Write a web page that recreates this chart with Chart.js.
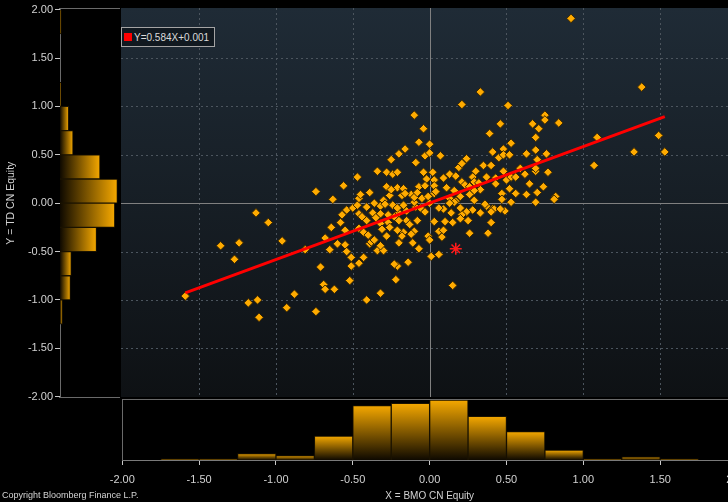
<!DOCTYPE html>
<html><head><meta charset="utf-8">
<script src="https://cdn.jsdelivr.net/npm/chart.js@4/dist/chart.umd.min.js"></script>
<style>
html,body{margin:0;padding:0;background:#000;overflow:hidden;width:728px;height:502px;}
#wrap{position:relative;width:760px;height:502px;}
canvas{position:absolute;left:0;top:0;}
#legend{position:absolute;left:121px;top:27px;width:94px;height:20px;box-sizing:border-box;border:1px solid #a4a4a4;background:#111920;
  font:10px 'Liberation Sans',Arial,sans-serif;color:#dadada;display:flex;align-items:center;white-space:nowrap;}
#legend .sw{display:inline-block;width:8px;height:8px;background:#ff0000;margin:0 2px 0 2px;}
#copy{position:absolute;left:2px;top:490px;font:9px 'Liberation Sans',Arial,sans-serif;line-height:10px;color:#d4d4d4;white-space:nowrap;}
</style></head>
<body><div id="wrap">
<canvas id="cl" width="760" height="502"></canvas>
<canvas id="cm" width="760" height="502"></canvas>
<canvas id="cb" width="760" height="502"></canvas>
<div id="legend"><span class="sw"></span><span id="legtxt"></span></div>
<div id="copy">Copyright Bloomberg Finance L.P.</div>
</div>
<script>
// ---------------- DATA ----------------
const xTickValues = [-2, -1.5, -1, -0.5, 0, 0.5, 1, 1.5, 2];
const xTickLabels = ['-2.00','-1.50','-1.00','-0.50','0.00','0.50','1.00','1.50','2.00'];
const yTickValues = [-2, -1.5, -1, -0.5, 0, 0.5, 1, 1.5, 2];
const yTickLabels = ['-2.00','-1.50','-1.00','-0.50','0.00','0.50','1.00','1.50','2.00'];

// X = BMO CN Equity returns
const bmoX = [
-1.59,-1.36,-1.24,-1.27,-1.13,-1.05,-0.96,-1.18,-1.12,-1.11,
-0.93,-0.88,-0.81,-0.74,-0.74,-0.71,-0.69,-0.68,-0.62,-0.63,
-0.56,-0.68,-0.64,-0.58,-0.55,-0.60,-0.65,-0.55,-0.54,-0.51,
-0.51,-0.52,-0.57,-0.54,-0.50,-0.47,-0.46,-0.46,-0.45,-0.39,
-0.46,-0.43,-0.40,-0.39,-0.38,-0.36,-0.46,-0.43,-0.41,-0.32,
-0.34,-0.30,-0.32,-0.28,-0.20,-0.22,-0.21,-0.14,-0.28,-0.21,
-0.17,-0.26,-0.18,-0.12,-0.17,-0.24,-0.32,-0.30,-0.20,-0.15,
-0.13,-0.10,-0.17,-0.18,-0.11,-0.07,-0.08,-0.09,-0.27,-0.32,
-0.26,-0.32,-0.37,-0.41,-0.27,-0.23,-0.21,-0.20,-0.41,-0.36,
-0.29,-0.21,-0.10,-0.06,-0.03,0.00,-0.01,0.00,-0.23,0.33,
0.21,0.51,-0.10,-0.04,-0.07,0.00,0.46,0.39,0.67,0.71,
0.75,0.75,0.84,0.69,0.53,1.09,1.07,-0.25,-0.20,-0.16,
-0.09,-0.03,0.00,0.07,-0.34,-0.28,-0.24,-0.21,-0.47,-0.04,
0.02,-0.02,0.03,-0.07,-0.03,0.03,-0.10,-0.05,-0.01,0.03,
0.13,0.17,0.19,0.21,0.24,0.21,0.23,0.16,0.20,0.13,
0.17,0.28,0.30,0.35,0.40,0.41,0.48,0.45,0.48,0.52,
0.48,0.37,0.43,0.50,0.53,0.56,0.43,0.33,0.29,0.47,
0.47,0.52,0.56,0.63,0.69,0.76,0.70,0.62,0.69,0.77,
0.65,0.74,0.63,0.70,0.69,0.82,0.81,0.59,0.37,0.41,
0.49,0.40,0.33,0.28,0.24,0.21,0.25,0.20,0.14,0.09,
0.10,0.15,0.03,1.33,1.53,0.15,0.01,0.06,0.38,0.26,
0.06,0.09,0.08,0.06,0.20,0.36,0.42,0.46,0.29,0.16,
0.26,0.29,0.13,0.69,0.04,0.53,0.40,0.92,1.38,1.49,
-0.25,-0.16,-0.08,-0.44,-0.35,-0.31,-0.15,-0.12,0.11,0.09,
0.26,0.32];

// Y = TD CN Equity returns
const tdY = [
-0.96,-0.44,-0.41,-0.58,-0.10,-0.20,-0.39,-1.03,-1.00,-1.18,
-1.08,-0.94,-0.48,0.12,-1.12,-0.66,-0.84,-0.89,-0.89,0.04,
0.18,-0.36,-0.25,-0.20,-0.28,-0.42,-0.48,-0.43,-0.50,-0.56,
-0.65,-0.80,-0.12,-0.07,-0.05,-0.02,-0.11,0.05,0.09,0.11,
-0.26,-0.30,-0.33,-0.42,-0.40,-0.38,-0.62,-0.56,-1.00,-0.93,
-0.49,-0.49,-0.44,-0.34,-0.41,-0.79,-0.65,-0.61,0.17,0.16,
0.15,0.08,0.08,0.09,-0.02,-0.02,-0.03,0.03,-0.10,-0.18,
-0.22,-0.29,-0.30,-0.34,-0.41,-0.47,-0.18,-0.04,-0.20,-0.21,
-0.25,-0.11,-0.10,-0.18,-0.12,-0.14,-0.28,-0.18,-0.04,0.00,
-0.01,-0.05,0.01,-0.05,-0.09,0.00,-0.34,-0.38,-0.63,1.15,
1.02,1.01,0.91,0.77,0.63,0.61,0.82,0.72,0.82,0.77,
0.91,0.86,0.83,0.68,0.62,0.68,0.39,0.45,0.51,0.56,
0.42,0.49,0.52,0.49,0.33,0.32,0.30,0.32,0.27,0.32,
0.32,0.25,0.24,0.17,0.18,0.18,0.06,0.05,0.07,0.10,
0.30,0.28,0.37,0.41,0.46,0.22,0.19,0.13,0.07,0.05,
0.02,0.27,0.33,0.39,0.39,0.53,0.56,0.47,0.50,0.50,
0.33,0.27,0.26,0.24,0.27,0.27,0.20,0.14,0.13,0.10,
0.04,0.15,0.10,0.51,0.55,0.51,0.45,0.30,0.33,0.32,
0.20,0.17,0.09,0.11,0.01,0.07,0.04,0.36,-0.03,-0.06,
-0.08,-0.20,-0.10,-0.07,-0.09,-0.12,-0.18,-0.05,-0.10,-0.06,
-0.19,-0.20,-0.19,0.53,0.53,-0.85,-0.55,-0.53,-0.31,-0.31,
-0.29,-0.28,-0.35,-0.05,-0.16,-0.01,-0.06,-0.06,0.22,0.01,
0.09,0.03,0.00,0.36,0.12,0.01,-0.09,1.91,1.20,0.70,
0.14,0.10,0.11,-0.14,-0.15,-0.27,-0.08,-0.32,0.16,0.26,
0.17,0.21];

// latest observation (red asterisk)
const latestX = [0.17];
const latestY = [-0.47];

// regression  Y = 0.584X + 0.001
const fitSlope = 0.584;
const fitIntercept = 0.001;

// histogram of X (bottom panel): bin centres and counts
const xBinCenters = [-1.625,-1.375,-1.125,-0.875,-0.625,-0.375,-0.125,0.125,0.375,0.625,0.875,1.125,1.375,1.625];
const xBinCounts  = [1,1,6,4,22,50,52,55,40,26,9,1,3,1];
// histogram of Y (left panel): bin centres and counts
const yBinCenters = [1.875,1.625,1.375,1.125,0.875,0.625,0.375,0.125,-0.125,-0.375,-0.625,-0.875,-1.125];
const yBinCounts  = [1.5,0,0,1,10,15,46,66,63,42,13,12,3];

// ---------------- LAYOUT ----------------
const W = 760, H = 502;
const area = {left:122.3, right:737, top:9.7, bottom:396.7};
const leftPanel = {left:60, right:120};
const bottomPanel = {top:399, bottom:460};
const ORANGE = '#f5a800';

Chart.defaults.font.family = "'Liberation Sans', Arial, sans-serif";
Chart.defaults.color = '#d0d0d0';

document.getElementById('legtxt').textContent =
  'Y=' + fitSlope.toFixed(3) + 'X+' + fitIntercept.toFixed(3);

const common = {responsive:false, animation:false, devicePixelRatio:1, events:[],
  plugins:{legend:{display:false}, tooltip:{enabled:false}}};

function hGrad(c){
  const ch = c.chart;
  if (!ch.chartArea || c.type !== 'data') return ORANGE;
  const xs = ch.scales.x;
  const x0 = xs.getPixelForValue(0), x1 = xs.getPixelForValue(c.raw.x);
  const g = ch.ctx.createLinearGradient(x0, 0, Math.max(x1, x0 + 1), 0);
  g.addColorStop(0, '#0e0900'); g.addColorStop(1, ORANGE);
  return g;
}
function vGrad(c){
  const ch = c.chart;
  if (!ch.chartArea || c.type !== 'data') return ORANGE;
  const ys = ch.scales.y;
  const y0 = ys.getPixelForValue(0), y1 = ys.getPixelForValue(c.raw.y);
  const g = ch.ctx.createLinearGradient(0, Math.min(y1, y0 - 1), 0, y0);
  g.addColorStop(0, ORANGE); g.addColorStop(1, '#0e0900');
  return g;
}

// ---------- left histogram (with Y axis) ----------
const frameA = {id:'frameA', afterDraw(ch){
  const c = ch.ctx; c.save(); c.strokeStyle = '#6a6a6a'; c.lineWidth = 1;
  c.beginPath();
  c.moveTo(leftPanel.left - 1, 8.5); c.lineTo(leftPanel.right, 8.5);
  c.moveTo(leftPanel.left - 1, 397.5); c.lineTo(leftPanel.right, 397.5);
  c.stroke(); c.restore();
}};
new Chart(document.getElementById('cl'), {
  type:'bar',
  data:{datasets:[{
    data: yBinCenters.map((v,i)=>({x:yBinCounts[i], y:v})),
    backgroundColor: hGrad, borderColor:'#1a1200', borderWidth:1,
    barPercentage:1, categoryPercentage:1
  }]},
  options:Object.assign({}, common, {
    indexAxis:'y',
    layout:{padding:{left:0, top:area.top, right:W - leftPanel.right, bottom:H - area.bottom}},
    scales:{
      x:{type:'linear', min:0, max:69, display:false, offset:false},
      y:{type:'linear', min:-2, max:2, offset:false,
        afterBuildTicks:s=>{ s.ticks = yTickValues.map(v=>({value:v})); },
        afterFit:s=>{ s.width = leftPanel.left; },
        ticks:{callback:(v,i)=>yTickLabels[i], color:'#d2d2d2', font:{size:11}, padding:2, autoSkip:false},
        grid:{display:true, drawOnChartArea:false, drawTicks:true, tickLength:5, tickColor:'#c8c8c8', offset:false},
        border:{display:true, color:'#6a6a6a'},
        title:{display:true, text:'Y = TD CN Equity', color:'#d2d2d2', font:{size:10.5}, padding:{top:4.5, bottom:0}}
      }
    }
  }),
  plugins:[frameA]
});

// ---------- main scatter ----------
const bgGrid = {id:'bgGrid',
  beforeDraw(ch){
    const c = ch.ctx; c.save();
    const g = c.createLinearGradient(0, 8, 0, 397);
    g.addColorStop(0, '#1f2b36'); g.addColorStop(1, '#0e1114');
    c.fillStyle = g; c.fillRect(121, 8, W - 121, 389);
    c.restore();
  },
  beforeDatasetsDraw(ch){
    const c = ch.ctx, xs = ch.scales.x, ys = ch.scales.y;
    c.save(); c.lineWidth = 1;
    c.strokeStyle = '#4c555e'; c.setLineDash([2,3]);
    c.beginPath();
    xTickValues.forEach(v=>{ if (v===0 || Math.abs(v)===2) return;
      const x = Math.round(xs.getPixelForValue(v)) + 0.5; c.moveTo(x, 8); c.lineTo(x, 397); });
    yTickValues.forEach(v=>{ if (v===0 || Math.abs(v)===2) return;
      const y = Math.round(ys.getPixelForValue(v)) + 0.5; c.moveTo(121, y); c.lineTo(W, y); });
    c.stroke();
    c.setLineDash([]); c.strokeStyle = '#808080';
    c.beginPath();
    const x0 = Math.round(xs.getPixelForValue(0)) + 0.5, y0 = Math.round(ys.getPixelForValue(0)) + 0.5;
    c.moveTo(x0, 8); c.lineTo(x0, 397); c.moveTo(121, y0); c.lineTo(W, y0);
    c.stroke(); c.restore();
  }
};
const points = bmoX.map((x,i)=>({x:x, y:tdY[i]}));
const xMin = Math.min(...bmoX), xMax = Math.max(...bmoX);
const fitLine = [xMin, xMax].map(x=>({x:x, y:fitSlope*x + fitIntercept}));
const latest = latestX.map((x,i)=>({x:x, y:latestY[i]}));

new Chart(document.getElementById('cm'), {
  type:'scatter',
  data:{datasets:[
    {type:'line', label:'fit', data:fitLine, borderColor:'#ff0000', borderWidth:3, pointRadius:0, fill:false, tension:0, order:0},
    {label:'latest', data:latest, pointStyle:'star', pointRadius:6, borderColor:'#ff1a1a', backgroundColor:'#ff1a1a', borderWidth:1.5, order:-1},
    {label:'obs', data:points, pointStyle:'rectRot', pointRadius:4.3, backgroundColor:'#ffab00', borderColor:'#3a2700', borderWidth:1, order:1}
  ]},
  options:Object.assign({}, common, {
    layout:{padding:{left:area.left, right:W - area.right, top:area.top, bottom:H - area.bottom}},
    scales:{
      x:{type:'linear', min:-2, max:2, display:false},
      y:{type:'linear', min:-2, max:2, display:false}
    }
  }),
  plugins:[bgGrid]
});

// ---------- bottom histogram (with X axis) ----------
const frameC = {id:'frameC', afterDraw(ch){
  const c = ch.ctx; c.save(); c.strokeStyle = '#6a6a6a'; c.lineWidth = 1;
  c.beginPath();
  c.moveTo(122, bottomPanel.top + 0.5); c.lineTo(W, bottomPanel.top + 0.5);
  c.moveTo(122.5, bottomPanel.top); c.lineTo(122.5, bottomPanel.bottom);
  c.stroke(); c.restore();
}};
new Chart(document.getElementById('cb'), {
  type:'bar',
  data:{datasets:[{
    data: xBinCenters.map((v,i)=>({x:v, y:xBinCounts[i]})),
    backgroundColor: vGrad, borderColor:'#1a1200', borderWidth:1,
    barPercentage:1, categoryPercentage:1
  }]},
  options:Object.assign({}, common, {
    layout:{padding:{left:area.left, right:W - area.right, top:bottomPanel.top, bottom:0}},
    scales:{
      x:{type:'linear', min:-2, max:2, offset:false,
        afterBuildTicks:s=>{ s.ticks = xTickValues.map(v=>({value:v})); },
        afterFit:s=>{ s.height = H - bottomPanel.bottom; },
        ticks:{callback:(v,i)=>xTickLabels[i], color:'#d2d2d2', font:{size:11}, padding:8, maxRotation:0, autoSkip:false},
        grid:{display:true, drawOnChartArea:false, drawTicks:true, tickLength:5, tickColor:'#c8c8c8', offset:false},
        border:{display:true, color:'#7a7a7a'},
        title:{display:true, text:'X = BMO CN Equity', color:'#d2d2d2', font:{size:10}, padding:{top:1, bottom:0}}
      },
      y:{type:'linear', min:0, max:56, display:false}
    }
  }),
  plugins:[frameC]
});
</script>
</body></html>
